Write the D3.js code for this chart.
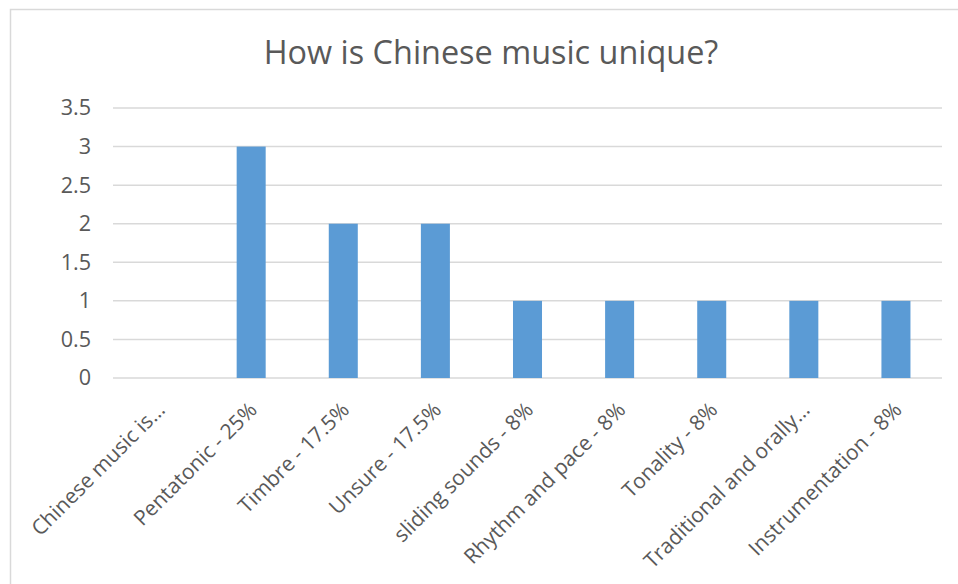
<!DOCTYPE html>
<html><head><meta charset="utf-8">
<script src="https://cdn.jsdelivr.net/npm/d3@7"></script>
<style>
html,body{margin:0;padding:0;background:#fff;}
svg{display:block;font-family:"Open Sans",sans-serif;}
</style></head>
<body><svg id="c" width="958" height="584"></svg>
<script>
const categories = ["Chinese music is…","Pentatonic - 25%","Timbre - 17.5%","Unsure - 17.5%","sliding sounds - 8%","Rhythm and pace - 8%","Tonality - 8%","Traditional and orally…","Instrumentation - 8%"];
const values = [0,3,2,2,1,1,1,1,1];
const yTicks = [0,0.5,1,1.5,2,2.5,3,3.5];
const title = "How is Chinese music unique?";

const svg = d3.select("#c");
svg.append("rect").attr("x",10.5).attr("y",9.5).attr("width",960).attr("height",600)
  .attr("fill","#fff").attr("stroke","#d9d9d9").attr("stroke-width",1.5);

const x = d3.scaleBand().domain(categories).range([113,942]).paddingInner(0.685).paddingOuter(0.3425);
const y = d3.scaleLinear().domain([0,3.5]).range([378,108]);

svg.append("text").attr("x",491).attr("y",64).attr("text-anchor","middle")
  .attr("fill","#595959").attr("font-size",32.4).text(title);

const grid = svg.append("g");
grid.selectAll("line").data(yTicks).join("line")
  .attr("x1",113).attr("x2",942).attr("y1",d=>y(d)).attr("y2",d=>y(d))
  .attr("stroke","#d9d9d9").attr("stroke-width",1.5);

const yAxis = d3.axisLeft(y).tickValues(yTicks).tickSize(0).tickPadding(0).tickFormat(d=>String(d));
const ya = svg.append("g").attr("transform","translate(91,0)").call(yAxis);
ya.select(".domain").remove();
ya.selectAll("text").attr("fill","#595959").attr("font-size",21.6).attr("font-family","Open Sans");

svg.append("g").selectAll("rect").data(values).join("rect")
  .attr("x",(d,i)=>x(categories[i])).attr("width",x.bandwidth())
  .attr("y",d=>y(d)).attr("height",d=>y(0)-y(d))
  .attr("fill","#5b9bd5");

const xAxis = d3.axisBottom(x).tickSize(0).tickPadding(0);
const xa = svg.append("g").attr("transform","translate(0,378)").call(xAxis);
xa.select(".domain").remove();
xa.selectAll("text")
  .attr("fill","#595959").attr("font-size",21).attr("font-family","Open Sans")
  .attr("text-anchor","end").attr("dy","0.75em")
  .attr("transform","translate(-4,22) rotate(-45)")
  .attr("y",0).attr("x",0);
</script></body></html>
